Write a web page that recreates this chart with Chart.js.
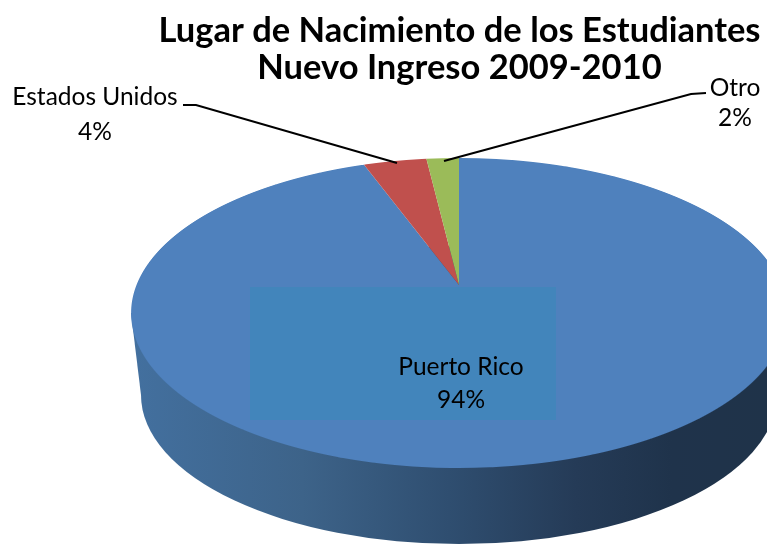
<!DOCTYPE html>
<html>
<head>
<meta charset="utf-8">
<title>Lugar de Nacimiento</title>
<script src="https://cdn.jsdelivr.net/npm/chart.js@4"></script>
<style>
  html, body { margin: 0; padding: 0; background: #fff; }
  canvas { display: block; }
</style>
</head>
<body>
<canvas id="pie3d" width="767" height="544"></canvas>
<script>
const titleLines = ["Lugar de Nacimiento de los Estudiantes", "Nuevo Ingreso 2009-2010"];
const categories = ["Puerto Rico", "Estados Unidos", "Otro"];
const values = [94.4, 3.7, 1.9];
const sliceColors = ["#4F81BD", "#C0504D", "#9BBB59"];

const FONT = "Lato, 'Open Sans', sans-serif";

// where the pie's top face lands on the page (tilted, so the centre sits above the middle)
const CX = 459;
const APEX_Y = 285;
const TOP_Y = 158;
const BOTTOM_Y = 468;
const WIDTH_A = 322.5;

const upper = APEX_Y - TOP_Y;
const lower = BOTTOM_Y - APEX_Y;
const K = (upper - lower) / (upper + lower);
const B = upper * (1 - K);

const percent = i => {
  const total = values.reduce((a, b) => a + b, 0);
  return Math.round(values[i] / total * 100) + "%";
};

const pie3dPlugin = {
  id: "pie3d",
  beforeDatasetsDraw(chart) {
    const ctx = chart.ctx;
    const arcs = chart.getDatasetMeta(0).data;
    const r = arcs[0].outerRadius;

    // side wall
    const wall = ctx.createLinearGradient(131, 0, 767, 0);
    wall.addColorStop(0, "#43709F");
    wall.addColorStop(0.27, "#3D6389");
    wall.addColorStop(0.5, "#2F4E70");
    wall.addColorStop(0.7, "#253B57");
    wall.addColorStop(0.85, "#1F334B");
    wall.addColorStop(1, "#1F3349");
    ctx.save();
    ctx.fillStyle = wall;
    ctx.beginPath();
    ctx.ellipse(CX, 395, 318, 149, 0, 0, Math.PI * 2);
    ctx.fill();
    ctx.beginPath();
    ctx.moveTo(131, 313);
    ctx.lineTo(141, 395);
    ctx.lineTo(777, 395);
    ctx.lineTo(787, 313);
    ctx.closePath();
    ctx.fill();
    ctx.restore();

    // top face: the library's arcs, drawn row by row through the tilt
    for (let y = TOP_Y - 2; y < BOTTOM_Y + 2; y++) {
      const yc = y + 0.5;
      const d = yc - APEX_Y;
      const v = d / (B - K * d);
      const den = 1 + K * v;
      const sx = WIDTH_A / den / r;
      const sy = B / (den * den) / r;
      ctx.save();
      ctx.beginPath();
      ctx.rect(0, y, chart.width, 1);
      ctx.clip();
      arcs.forEach(arc => {
        ctx.save();
        ctx.setTransform(sx, 0, 0, sy, CX - sx * arc.x, yc - sy * (arc.y + v * r));
        arc.draw(ctx);
        ctx.restore();
      });
      ctx.restore();
    }
    return false;
  },
  afterDraw(chart) {
    const ctx = chart.ctx;
    ctx.save();

    // box behind the big slice's label
    ctx.fillStyle = "#4285BB";
    ctx.fillRect(250, 287, 306, 133);

    // leader lines
    ctx.strokeStyle = "#000";
    ctx.lineWidth = 2;
    ctx.beginPath();
    ctx.moveTo(183, 105);
    ctx.lineTo(196, 105);
    ctx.lineTo(397, 163);
    ctx.moveTo(706, 93);
    ctx.lineTo(691, 94);
    ctx.lineTo(444, 161);
    ctx.stroke();

    ctx.fillStyle = "#000";
    ctx.textAlign = "center";
    ctx.textBaseline = "middle";
    ctx.font = "24.5px " + FONT;
    ctx.fillText(categories[0], 461, 367);
    ctx.fillText(percent(0), 461, 400);
    ctx.fillText(categories[1], 95, 97);
    ctx.fillText(percent(1), 95, 132);
    ctx.fillText(categories[2], 735, 88);
    ctx.fillText(percent(2), 735, 118);
    ctx.restore();
  }
};

new Chart(document.getElementById("pie3d"), {
  type: "pie",
  data: {
    labels: categories,
    datasets: [{
      data: values,
      backgroundColor: sliceColors,
      borderWidth: 0
    }]
  },
  options: {
    responsive: false,
    animation: false,
    layout: { padding: { left: 152, right: 0, top: 8, bottom: 0 } },
    plugins: {
      legend: { display: false },
      tooltip: { enabled: false },
      title: {
        display: true,
        text: titleLines,
        color: "#000",
        font: { family: FONT, size: 34.5, weight: "bold", lineHeight: 1.08 },
        padding: { top: 4, bottom: 4 }
      }
    }
  },
  plugins: [pie3dPlugin]
});
</script>
</body>
</html>
